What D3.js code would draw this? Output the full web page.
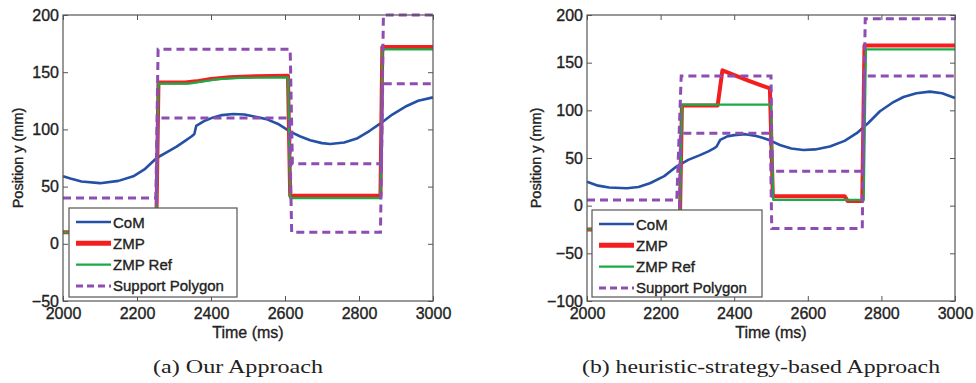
<!DOCTYPE html>
<html><head><meta charset="utf-8">
<script src="https://cdn.jsdelivr.net/npm/d3@7"></script>
<style>body{margin:0;background:#fff}svg{display:block}</style>
</head><body>
<svg id="c" width="976" height="383"></svg>
<script>
// ---- data ----
const timeTicks = [2000, 2200, 2400, 2600, 2800, 3000];
const yTicksA = [-50, 0, 50, 100, 150, 200];
const yTicksB = [-100, -50, 0, 50, 100, 150, 200];
const legendLabels = ["CoM", "ZMP", "ZMP Ref", "Support Polygon"];
const captions = ["(a)  Our Approach", "(b)  heuristic-strategy-based Approach"];
const xTitle = "Time (ms)";
const yTitle = "Position y (mm)";

// Panel (a)
const comA = [[2000,59],[2020,57],[2050,54.5],[2100,53],[2150,55],[2190,59],[2220,65],[2253,75],[2280,80],[2307,85],[2330,90],[2348,94],[2355,96],[2360,103],[2380,107],[2406,110.5],[2430,112.5],[2460,113.5],[2490,113],[2520,111],[2550,109],[2580,105],[2614,98],[2640,94],[2668,90.5],[2700,88],[2722,87.3],[2760,88.5],[2794,92],[2830,99],[2857,105],[2890,113],[2929,120.5],[2960,125],[3000,128]];
const zmpA = [[2000,10],[2252,10],[2258,141],[2330,141],[2360,142],[2400,144],[2450,145.5],[2520,146.5],[2608,147],[2614,42],[2858,42],[2863,172],[3000,172]];
const zmpRefA = [[2000,10],[2252,10],[2258,140],[2340,140],[2380,142],[2420,144],[2480,145],[2608,145.5],[2614,40],[2858,40],[2863,170],[3000,170]];
const polyUpperA = [[2000,40],[2251,40],[2257,170],[2614,170],[2620,70],[2860,70],[2866,200],[3000,200]];
const polyLowerA = [[2100,-20],[2250,-20],[2256,110],[2612,110],[2618,10],[2858,10],[2864,140],[3000,140]];

// Panel (b)
const comB = [[2000,25],[2030,21],[2060,19],[2108,18.2],[2140,19.5],[2171,23.5],[2210,31],[2243,41],[2275,48],[2307,53],[2330,57],[2345,60],[2352,62],[2362,69],[2380,72.5],[2400,74],[2430,75],[2460,73],[2479,71],[2500,68],[2524,63.6],[2555,60],[2588,58.4],[2620,59],[2660,62],[2700,68],[2733,76],[2765,87],[2796,99],[2830,108],[2860,114],[2895,118],[2932,119.6],[2965,118],[3000,113]];
const zmpB = [[2000,-25],[2252,-25],[2258,105],[2355,105],[2368,142],[2390,138.5],[2440,131],[2497,123],[2505,10],[2700,10],[2708,5],[2748,5],[2754,168],[3000,168]];
const zmpRefB = [[2000,-25],[2252,-25],[2258,106],[2500,106],[2506,6],[2752,6],[2758,164],[3000,164]];
const polyUpperB = [[2000,6],[2244,6],[2256,136],[2500,136],[2503,36],[2750,36],[2756,196],[3000,196]];
const polyLowerB = [[2100,-54],[2250,-54],[2254,76],[2498,76],[2502,-24],[2748,-24],[2753,136],[3000,136]];

// ---- styles ----
const C = {com:"#2450a6", zmp:"#f41e1e", ref:"#1aaa48", poly:"#8d4db2", axis:"#555", text:"#222"};

const panels = [
  {x0:63, x1:433, y0:15, y1:301, yDomain:[-50,200], yTicks:yTicksA,
   com:comA, zmp:zmpA, ref:zmpRefA, up:polyUpperA, lo:polyLowerA,
   leg:{x:69,y:208,w:168,h:89}, cap:captions[0], capX:238, capW:170, yLabX:18},
  {x0:587, x1:955, y0:15, y1:301, yDomain:[-100,200], yTicks:yTicksB,
   com:comB, zmp:zmpB, ref:zmpRefB, up:polyUpperB, lo:polyLowerB,
   leg:{x:592,y:210,w:170,h:87}, cap:captions[1], capX:761, capW:358, yLabX:536}
];

const svg = d3.select("#c");
const font = "Liberation Sans, Arial, sans-serif";
const fmt = d3.format("d");

function heavy(sel){ return sel.attr("stroke",C.text).attr("stroke-width",0.35); }

panels.forEach(p => {
  const x = d3.scaleLinear().domain([2000,3000]).range([p.x0,p.x1]);
  const y = d3.scaleLinear().domain(p.yDomain).range([p.y1,p.y0]);
  const g = svg.append("g");

  g.append("rect").attr("x",p.x0).attr("y",p.y0).attr("width",p.x1-p.x0).attr("height",p.y1-p.y0)
    .attr("fill","#fff");

  const line = d3.line().x(d=>x(d[0])).y(d=>y(d[1]));
  g.append("path").datum(p.com).attr("d",line).attr("fill","none").attr("stroke",C.com).attr("stroke-width",2.6).attr("stroke-linejoin","round");
  g.append("path").datum(p.zmp).attr("d",line).attr("fill","none").attr("stroke",C.zmp).attr("stroke-width",4).attr("stroke-linejoin","round");
  g.append("path").datum(p.ref).attr("d",line).attr("fill","none").attr("stroke",C.ref).attr("stroke-width",2.2).attr("stroke-linejoin","round");
  [p.up,p.lo].forEach(s=>{
    g.append("path").datum(s).attr("d",line).attr("fill","none").attr("stroke",C.poly).attr("stroke-width",3).attr("stroke-dasharray","8,5");
  });

  const axL = g.append("g").attr("transform",`translate(${p.x0},0)`)
    .call(d3.axisLeft(y).tickValues(p.yTicks).tickSize(-5).tickFormat(fmt));
  const axR = g.append("g").attr("transform",`translate(${p.x1},0)`)
    .call(d3.axisRight(y).tickValues(p.yTicks).tickSize(-5).tickFormat(""));
  const axB = g.append("g").attr("transform",`translate(0,${p.y1})`)
    .call(d3.axisBottom(x).tickValues(timeTicks).tickSize(-5).tickFormat(fmt));
  const axT = g.append("g").attr("transform",`translate(0,${p.y0})`)
    .call(d3.axisTop(x).tickValues(timeTicks).tickSize(-5).tickFormat(""));
  [axL,axR,axB,axT].forEach(a=>{
    a.select(".domain").remove();
    a.selectAll(".tick line").attr("stroke",C.axis);
    a.selectAll("text").attr("font-family",font).attr("font-size",16).attr("fill",C.text).call(heavy);
  });
  axL.selectAll("text").attr("x",-4);
  axB.selectAll("text").attr("y",7);

  g.append("rect").attr("x",p.x0).attr("y",p.y0).attr("width",p.x1-p.x0).attr("height",p.y1-p.y0)
    .attr("fill","none").attr("stroke",C.axis).attr("stroke-width",1.2);

  g.append("text").attr("x",(p.x0+p.x1)/2).attr("y",338).attr("text-anchor","middle")
    .attr("font-family",font).attr("font-size",16).attr("fill",C.text).call(heavy).text(xTitle);
  g.append("text").attr("transform",`translate(${p.yLabX},${(p.y0+p.y1)/2}) rotate(-90)`)
    .attr("text-anchor","middle").attr("dominant-baseline","central")
    .attr("font-family",font).attr("font-size",14.5).attr("fill",C.text).call(heavy).text(yTitle);

  const L = p.leg;
  const lg = g.append("g").attr("transform",`translate(${L.x},${L.y})`);
  lg.append("rect").attr("width",L.w).attr("height",L.h).attr("fill","#fff").attr("stroke",C.axis).attr("stroke-width",1.2);
  const sty = [
    {c:C.com,w:2.4,d:null},{c:C.zmp,w:5,d:null},{c:C.ref,w:2.4,d:null},{c:C.poly,w:3,d:"7,4"}
  ];
  legendLabels.forEach((lab,i)=>{
    const yy = 14 + i*21.3;
    lg.append("line").attr("x1",7).attr("x2",42).attr("y1",yy).attr("y2",yy)
      .attr("stroke",sty[i].c).attr("stroke-width",sty[i].w).attr("stroke-dasharray",sty[i].d);
    lg.append("text").attr("x",44).attr("y",yy).attr("dominant-baseline","central")
      .attr("font-family",font).attr("font-size",15).attr("fill",C.text).call(heavy).text(lab);
  });

  svg.append("text").attr("x",p.capX).attr("y",373).attr("text-anchor","middle")
    .attr("font-family","Liberation Serif, serif").attr("font-size",19).attr("fill","#222")
    .attr("textLength",p.capW).attr("lengthAdjust","spacingAndGlyphs").text(p.cap);
});
</script>
</body></html>
